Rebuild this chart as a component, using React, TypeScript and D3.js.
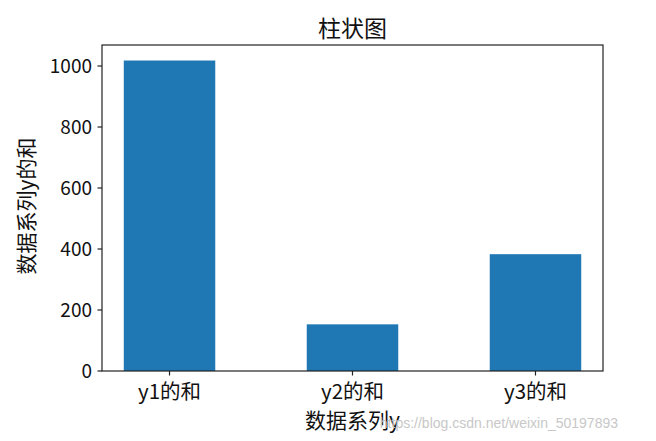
import * as React from "react";
import * as d3 from "d3";

const categories = ["y1的和", "y2的和", "y3的和"];
const sums = [1018, 153, 383];
const yTicks = [0, 200, 400, 600, 800, 1000];

const width = 656;
const height = 441;
const margin = { top: 45, right: 53, bottom: 70, left: 102 };
const font = "'Noto Sans CJK SC', 'DejaVu Sans', sans-serif";

export default function App() {
  const innerW = width - margin.left - margin.right;
  const innerH = height - margin.top - margin.bottom;

  const xScale = React.useMemo(
    () =>
      d3
        .scaleBand()
        .domain(categories)
        .range([0, innerW])
        .paddingInner(0.5)
        .paddingOuter(0.119),
    [innerW]
  );

  const yScale = React.useMemo(() => {
    const max = d3.max(sums) || 10;
    return d3.scaleLinear().domain([0, max * 1.05]).range([innerH, 0]);
  }, [innerH]);

  return (
    <svg
      width={width}
      height={height}
      style={{ position: "absolute", left: 0, top: 0, background: "#fff" }}
      fontFamily={font}
    >
      <text x={margin.left + innerW / 2} y={37} textAnchor="middle" fontSize={23} fill="#111">
        柱状图
      </text>
      <g transform={`translate(${margin.left},${margin.top})`}>
        {sums.map((v, i) => (
          <rect
            key={i}
            x={xScale(categories[i])}
            y={yScale(v)}
            width={xScale.bandwidth()}
            height={innerH - yScale(v)}
            fill="#1f77b4"
          />
        ))}
        <rect x={0} y={0} width={innerW} height={innerH} fill="none" stroke="#222" strokeWidth={1.2} />
        {yTicks.map((t) => (
          <g key={t} transform={`translate(0,${yScale(t)})`}>
            <line x1={-4.5} x2={0} stroke="#222" strokeWidth={1.2} />
            <text x={-10} dy="0.35em" textAnchor="end" fontSize={19} fill="#111">
              {t}
            </text>
          </g>
        ))}
        {categories.map((c) => {
          const cx = (xScale(c) || 0) + xScale.bandwidth() / 2;
          return (
            <g key={c} transform={`translate(${cx},${innerH})`}>
              <line y1={0} y2={4.5} stroke="#222" strokeWidth={1.2} />
              <text y={28} textAnchor="middle" fontSize={20.5} fill="#111">
                {c}
              </text>
            </g>
          );
        })}
      </g>
      <text x={margin.left + innerW / 2} y={428} textAnchor="middle" fontSize={21} fill="#111">
        数据系列y
      </text>
      <text
        transform={`translate(34,${margin.top + innerH / 2 - 2}) rotate(-90)`}
        textAnchor="middle"
        fontSize={21}
        fill="#111"
      >
        数据系列y的和
      </text>
      <text x={618} y={428} textAnchor="end" fontSize={14} fill="#c8c8c8" fontFamily="'Liberation Sans', Arial, sans-serif">
        https://blog.csdn.net/weixin_50197893
      </text>
    </svg>
  );
}
